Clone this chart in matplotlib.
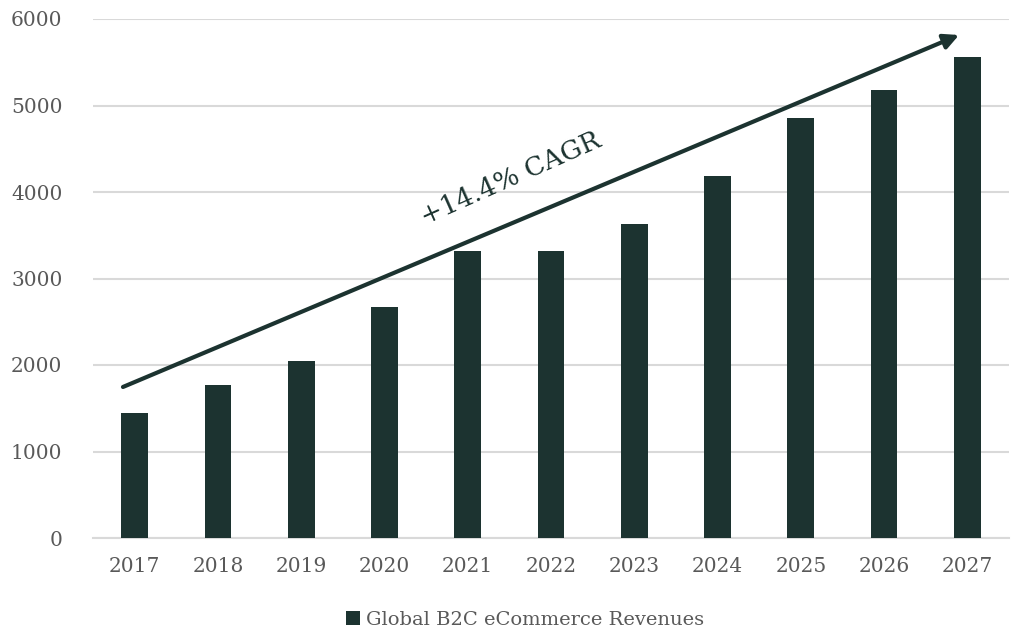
import matplotlib
matplotlib.use("Agg")
import matplotlib.pyplot as plt
from matplotlib.patches import Patch

years = ["2017", "2018", "2019", "2020", "2021", "2022", "2023", "2024", "2025", "2026", "2027"]
revenues = [1450, 1772, 2050, 2667, 3318, 3320, 3633, 4186, 4860, 5175, 5558]
series_name = "Global B2C eCommerce Revenues"
cagr_label = "+14.4% CAGR"
y_ticks = [0, 1000, 2000, 3000, 4000, 5000, 6000]

bar_color = "#1c3330"
grid_color = "#d9d9d9"
text_color = "#595959"

plt.rcParams["font.family"] = ["DejaVu Serif"]

fig = plt.figure(figsize=(10.11, 6.30), dpi=100)
ax = fig.add_axes([93 / 1011, 1 - 538 / 630, 916 / 1011, (538 - 19) / 630])

x = list(range(len(years)))
ax.bar(x, revenues, width=0.32, color=bar_color, zorder=3)

ax.set_xlim(-0.5, len(years) - 0.5)
ax.set_ylim(0, 6000)
ax.set_yticks(y_ticks)
ax.set_yticklabels([str(t) for t in y_ticks])
ax.set_xticks(x)
ax.set_xticklabels(years)
ax.tick_params(axis="both", length=0, labelsize=14.5, labelcolor=text_color)
ax.tick_params(axis="y", pad=22)
ax.tick_params(axis="x", pad=14)

ax.yaxis.grid(True, color=grid_color, linewidth=1.5, zorder=0)
ax.set_axisbelow(True)
for side in ("top", "right", "left"):
    ax.spines[side].set_visible(False)
ax.spines["bottom"].set_color(grid_color)
ax.spines["bottom"].set_linewidth(1.5)

# growth arrow across the bars
ax.annotate("", xy=(9.9, 5815), xytext=(-0.14, 1746),
            arrowprops=dict(arrowstyle="-|>,head_length=0.9,head_width=0.45",
                            color=bar_color, lw=3, shrinkA=0, shrinkB=0),
            zorder=5, annotation_clip=False)
ax.text(4.52, 4160, cagr_label, rotation=24, rotation_mode="anchor",
        ha="center", va="center", fontsize=19, color=bar_color, zorder=6)

handles = [Patch(facecolor=bar_color, edgecolor="none")]
fig.legend(handles, [series_name], loc="center", bbox_to_anchor=(525 / 1011, 1 - 620 / 630),
           frameon=False, fontsize=14, labelcolor=text_color,
           handlelength=0.75, handleheight=0.75, handletextpad=0.3)

fig.savefig("out.png", dpi=100)
